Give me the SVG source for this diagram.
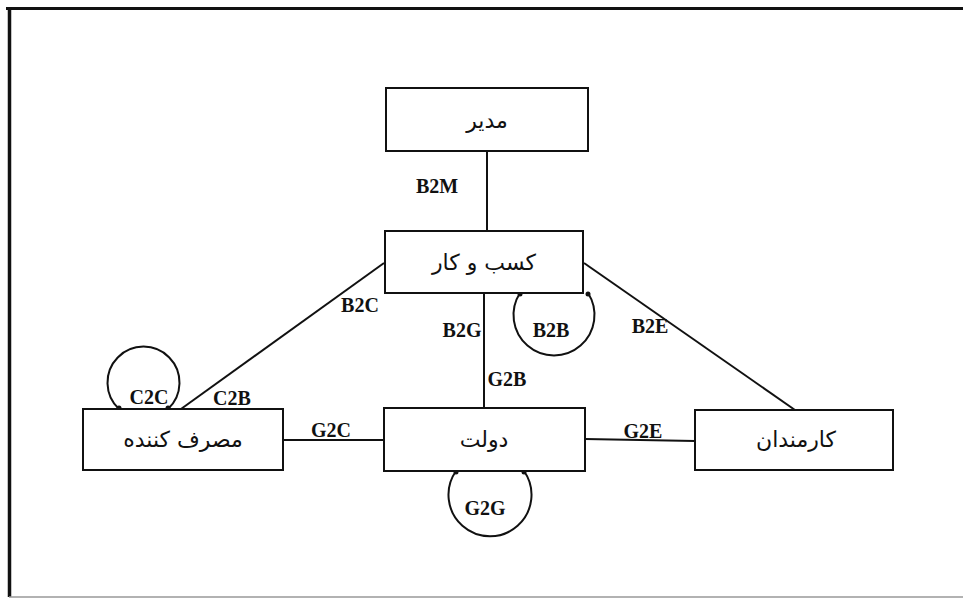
<svg xmlns="http://www.w3.org/2000/svg" width="963" height="598" viewBox="0 0 963 598">
<style>
.box{fill:#fff;stroke:#111;stroke-width:2}
.ln{fill:none;stroke:#111;stroke-width:2}
.lb{font-family:"Liberation Serif",serif;font-weight:bold;font-size:20px;fill:#111;text-anchor:middle}
.fa{font-family:"DejaVu Sans",sans-serif;font-size:22px;fill:#111;text-anchor:middle}
.dot{fill:#111}
</style>
<rect width="963" height="598" fill="#fff"/>
<g id="frame">
<line x1="6" y1="8.5" x2="963" y2="8.5" stroke="#111" stroke-width="3"/>
<line x1="9.5" y1="7" x2="9.5" y2="597" stroke="#111" stroke-width="3.5"/>
<line x1="9" y1="597" x2="963" y2="597" stroke="#999" stroke-width="1.5"/>
</g>
<g id="connectors">
<line class="ln" x1="487" y1="151" x2="487" y2="231"/>
<line class="ln" x1="384" y1="263" x2="181" y2="409"/>
<line class="ln" x1="484" y1="293" x2="484" y2="408"/>
<line class="ln" x1="584" y1="263" x2="795" y2="410"/>
<line class="ln" x1="283" y1="440" x2="384" y2="440"/>
<line class="ln" x1="585" y1="439" x2="695" y2="441"/>
<path class="ln" d="M119,409 A36,36 0 1 1 168,409"/>
<circle class="dot" cx="119" cy="408" r="2.5"/>
<circle class="dot" cx="168" cy="408" r="2.5"/>
<path class="ln" d="M520,293 A40.5,40.5 0 1 0 588,293"/>
<circle class="dot" cx="520" cy="294" r="2.5"/>
<circle class="dot" cx="588" cy="294" r="2.5"/>
<path class="ln" d="M456,471 A41.5,41.5 0 1 0 524,471"/>
<circle class="dot" cx="456" cy="472" r="2.5"/>
<circle class="dot" cx="524" cy="472" r="2.5"/>
<text class="lb" x="437" y="193">B2M</text>
<text class="lb" x="360" y="312">B2C</text>
<text class="lb" x="232" y="405">C2B</text>
<text class="lb" x="149" y="404">C2C</text>
<text class="lb" x="462" y="337">B2G</text>
<text class="lb" x="551" y="337">B2B</text>
<text class="lb" x="507" y="386">G2B</text>
<text class="lb" x="485" y="515">G2G</text>
<text class="lb" x="331" y="437">G2C</text>
<text class="lb" x="643" y="438">G2E</text>
<text class="lb" x="650" y="333">B2E</text>
</g>
<g id="modir">
<rect class="box" x="386" y="88" width="202" height="63"/>
<text class="fa" x="487" y="128">مدیر</text>
</g>
<g id="kasbokar">
<rect class="box" x="385" y="231" width="198" height="62"/>
<text class="fa" x="484" y="270">کسب و کار</text>
</g>
<g id="masrafkonande">
<rect class="box" x="83" y="409" width="200" height="61"/>
<text class="fa" x="183" y="447">مصرف کننده</text>
</g>
<g id="dolat">
<rect class="box" x="384" y="408" width="201" height="63"/>
<text class="fa" x="484" y="447">دولت</text>
</g>
<g id="karmandan">
<rect class="box" x="695" y="410" width="198" height="60"/>
<text class="fa" x="796" y="447">کارمندان</text>
</g>
</svg>
